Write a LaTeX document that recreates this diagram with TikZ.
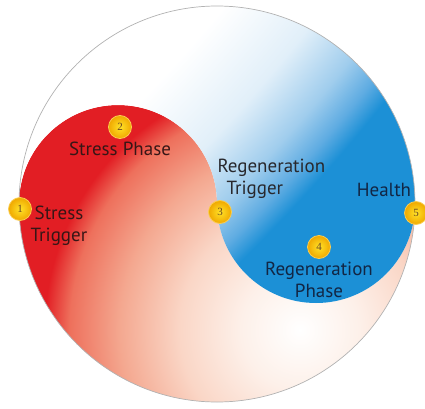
\documentclass[tikz,border=0pt]{standalone}
\usepackage{fontspec}
\setmainfont{PT Sans}
\newfontfamily\numfont{Liberation Serif}
\usepackage{tikz}
\usetikzlibrary{calc, positioning, shadings}

\definecolor{stressred}{RGB}{226,30,36}
\definecolor{healthblue}{RGB}{28,144,214}
\definecolor{redtext}{RGB}{55,22,22}
\definecolor{greytext}{RGB}{40,40,45}
\definecolor{bluetext}{RGB}{18,38,68}
\definecolor{badgein}{RGB}{255,226,40}
\definecolor{badgeout}{RGB}{240,168,0}
\definecolor{badgerim}{RGB}{250,205,80}

\pgfdeclareradialshading{redfade}{\pgfpoint{0bp}{0bp}}{%
  color(0bp)=(white);
  color(3.3bp)=(rgb,255:red,253;green,240;blue,233);
  color(6.7bp)=(rgb,255:red,250;green,214;blue,198);
  color(10bp)=(rgb,255:red,244;green,168;blue,144);
  color(12.8bp)=(rgb,255:red,238;green,112;blue,92);
  color(14.2bp)=(stressred);
  color(25bp)=(stressred);
  color(50bp)=(stressred)}
\pgfdeclareradialshading{bluefade}{\pgfpoint{0bp}{0bp}}{%
  color(0bp)=(white);
  color(18bp)=(white);
  color(18.9bp)=(rgb,255:red,225;green,239;blue,249);
  color(19.5bp)=(rgb,255:red,160;green,205;blue,237);
  color(19.85bp)=(rgb,255:red,95;green,172;blue,226);
  color(20.1bp)=(healthblue);
  color(25bp)=(healthblue);
  color(50bp)=(healthblue)}

\tikzset{
  badge/.style={circle, draw=badgerim, line width=0.8pt, inner sep=0pt,
    minimum size=23pt, inner color=badgein, outer color=badgeout,
    font=\numfont\fontsize{11}{11}\selectfont, text=brown!55!black},
  phase/.style={align=center, font=\fontsize{19}{22}\selectfont}
}

\begin{document}
\begin{tikzpicture}[x=1pt, y=1pt, node distance=1pt]
  \useasboundingbox (0,0) rectangle (425,408);
  % shapes %
  \begin{scope}
    \clip (19,204) arc[start angle=180, end angle=0, radius=99]
      arc[start angle=180, end angle=360, radius=99]
      arc[start angle=0, end angle=-180, radius=198] -- cycle;
    \shade[shading=redfade] (300,78) circle (450);
  \end{scope}
  \begin{scope}
    \clip (217,204) arc[start angle=180, end angle=360, radius=99]
      arc[start angle=0, end angle=180, radius=198]
      arc[start angle=180, end angle=0, radius=99] -- cycle;
    \shade[shading=bluefade] (-1000,1408) circle (2200);
  \end{scope}
  \draw[gray!60, line width=0.7pt] (217,204) circle (198);

  % nodes %
  \node[badge] (b1) at (20,199) {1};
  \node[badge] (b2) at (120,281) {2};
  \node[badge] (b3) at (220,196) {3};
  \node[badge] (b4) at (319,161) {4};
  \node[badge] (b5) at (416,195) {5};

  \node[phase, text=redtext] (stresstrigger) at (59,182) {Stress\\Trigger};
  \node[phase, text=redtext, below=0pt of b2] (stressphase) {Stress Phase};
  \node[phase, text=greytext, align=left, anchor=west] (regtrigger) at (214,229)
    {Regeneration\\\hspace*{9pt}Trigger};
  \node[phase, text=bluetext] (health) at (384,218) {Health};
  \node[phase, text=bluetext, below=0pt of b4] (regphase) {Regeneration\\Phase};
\end{tikzpicture}
\end{document}
